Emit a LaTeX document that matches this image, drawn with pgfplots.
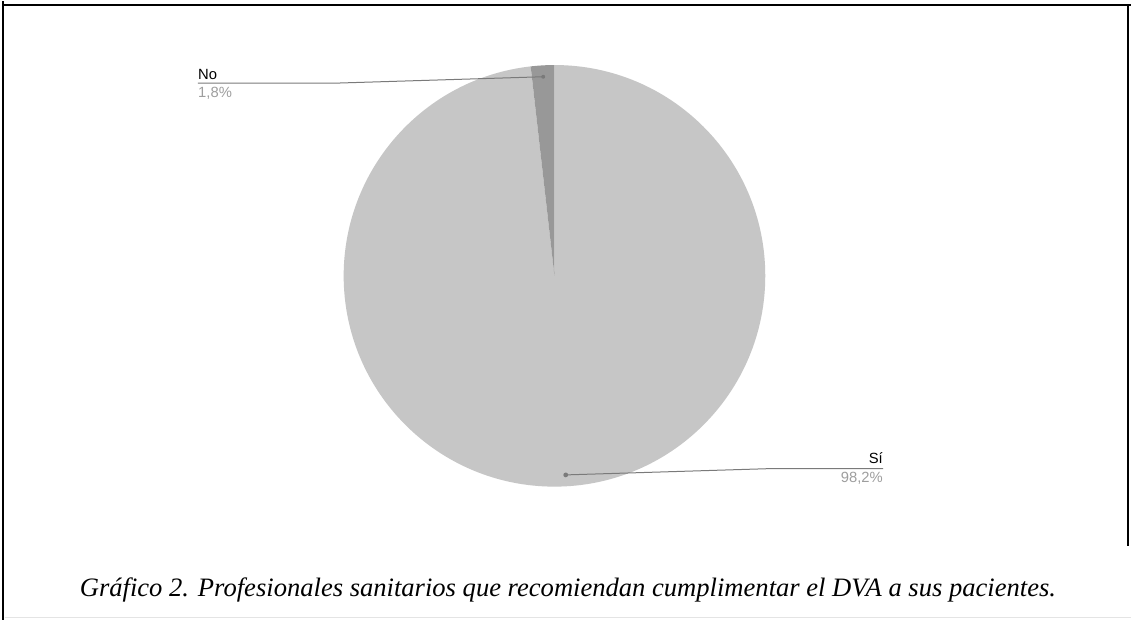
\documentclass[border=0pt]{standalone}
\usepackage{pgfplots}
\usepackage{pgfplotstable}
\pgfplotsset{compat=1.18}
\usepackage{fontspec}
\setmainfont{Liberation Serif}
\newfontfamily\labelfont{Liberation Sans}

\definecolor{sliceSi}{HTML}{C6C6C6}
\definecolor{sliceNo}{HTML}{989898}
\definecolor{leader}{HTML}{7A7A7A}
\definecolor{pctgray}{HTML}{9E9E9E}
\definecolor{rulegray}{HTML}{E4E4E4}

% share of answers (percent)
\pgfplotstableread{
label value
Si 98.2
No 1.8
}\piedata

\begin{document}
\begin{tikzpicture}
\pgfplotstablegetelem{0}{value}\of\piedata \let\vSi\pgfplotsretval
\pgfplotstablegetelem{1}{value}\of\piedata \let\vNo\pgfplotsretval
% slices run clockwise from 12 o'clock
\pgfmathsetmacro\aSiEnd{90-3.6*\vSi}
\pgfmathsetmacro\aNoEnd{\aSiEnd-3.6*\vNo}
\pgfmathsetmacro\mSi{(90+\aSiEnd)/2}
\pgfmathsetmacro\mNo{(\aSiEnd+\aNoEnd)/2}
\def\R{105.5pt}
\def\Rd{99.8pt}
\begin{axis}[
  x=0.5pt, y=0.5pt,
  xmin=0, xmax=1132, ymin=0, ymax=619,
  hide axis, clip=false, scale only axis,
]
% page background and frame
\fill[white] (axis cs:0,0) rectangle (axis cs:1132,619);
\draw[black, line width=1.1pt] (axis cs:3,619) -- (axis cs:3,0);
\draw[black, line width=1.1pt] (axis cs:3,615) -- (axis cs:1132,615);
\draw[black, line width=1.1pt] (axis cs:1129,615) -- (axis cs:1129,74);
\draw[rulegray, line width=0.6pt] (axis cs:5,2) -- (axis cs:1132,2);

% pie slices
\fill[sliceSi] (axis cs:555,344) -- ++(90:\R) arc[start angle=90, end angle=\aSiEnd, radius=\R] -- cycle;
\fill[sliceNo] (axis cs:555,344) -- ++(\aSiEnd:\R) arc[start angle=\aSiEnd, end angle=\aNoEnd, radius=\R] -- cycle;

% leader lines
\draw[leader, line width=0.5pt] (axis cs:555,344) ++(\mNo:\Rd) -- (axis cs:340,537) -- (axis cs:198,537);
\fill[leader] (axis cs:555,344) ++(\mNo:\Rd) circle[radius=1pt];
\draw[leader, line width=0.5pt] (axis cs:555,344) ++(\mSi:\Rd) -- (axis cs:770,151) -- (axis cs:884,151);
\fill[leader] (axis cs:555,344) ++(\mSi:\Rd) circle[radius=1.2pt];

% slice labels
\node[anchor=base west, inner sep=0pt, font=\labelfont\fontsize{7.4}{8}\selectfont] at (axis cs:198,541) {No};
\node[anchor=base west, inner sep=0pt, text=pctgray, font=\labelfont\fontsize{7.4}{8}\selectfont] at (axis cs:198,523) {\pgfmathprintnumber[fixed, precision=1, use comma, assume math mode=true]{\vNo}\%};
\node[anchor=base east, inner sep=0pt, font=\labelfont\fontsize{7.4}{8}\selectfont] at (axis cs:884,156) {Sí};
\node[anchor=base east, inner sep=0pt, text=pctgray, font=\labelfont\fontsize{7.4}{8}\selectfont] at (axis cs:884,137) {\pgfmathprintnumber[fixed, precision=1, use comma, assume math mode=true]{\vSi}\%};

% caption
\node[anchor=base, inner sep=0pt, font=\itshape\fontsize{13.3}{15}\selectfont] at (axis cs:568.5,23) {Gráfico 2. Profesionales sanitarios que recomiendan cumplimentar el DVA a sus pacientes.};
\end{axis}
\end{tikzpicture}
\end{document}
